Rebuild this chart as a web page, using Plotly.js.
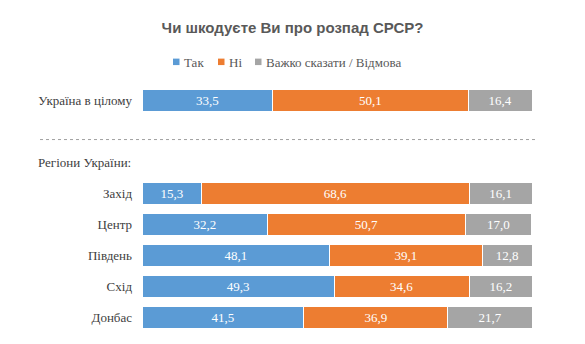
<!DOCTYPE html>
<html><head><meta charset="utf-8">
<script src="https://cdn.plot.ly/plotly-3.0.1.min.js"></script>
<style>html,body{margin:0;padding:0;background:#fff}#chart{width:585px;height:344px}</style>
</head><body><div id="chart"></div>
<script>
const categories = ["Україна в цілому", "Захід", "Центр", "Південь", "Схід", "Донбас"];
const positions = [0, 3, 4, 5, 6, 7];
const seriesNames = ["Так", "Ні", "Важко сказати / Відмова"];
const yes = [33.5, 15.3, 32.2, 48.1, 49.3, 41.5];
const no = [50.1, 68.6, 50.7, 39.1, 34.6, 36.9];
const hard = [16.4, 16.1, 17.0, 12.8, 16.2, 21.7];
const colors = ["#5B9BD5", "#ED7D31", "#A5A5A5"];
const groupLabel = "Регіони України:";
const groupPos = 2;
const titleText = "Чи шкодуєте Ви про розпад СРСР?";

const W = 585, H = 344, L = 142, R = 53, T = 84.5, B = 10.5;
const px = x => (x - L) / (W - L - R);
const py = y => (H - B - y) / (H - T - B);

const fmt = v => v.toFixed(1).replace(".", ",");
const serif = "Liberation Serif";
const traces = [yes, no, hard].map((vals, i) => ({
  type: "bar", orientation: "h",
  name: seriesNames[i], x: vals, y: positions,
  marker: {color: colors[i], line: {color: "#ffffff", width: 1}},
  width: 0.68,
  text: vals.map(fmt), textposition: "inside", insidetextanchor: "middle",
  textfont: {family: serif, size: 13, color: "#ffffff"},
  hoverinfo: "none", showlegend: false
}));

// legend drawn from seriesNames / colors
const legendX = [173, 218, 255];
const shapes = [{type: "line", xref: "paper", yref: "y", x0: px(40), x1: px(538), y0: 1.26, y1: 1.26,
    line: {color: "#A0A0A0", width: 1, dash: "dot"}}];
const annotations = [{text: groupLabel, xref: "paper", yref: "y", x: px(36), y: groupPos,
    xanchor: "left", yanchor: "middle", showarrow: false,
    font: {family: serif, size: 13, color: "#404040"}}];
seriesNames.forEach((n, i) => {
  shapes.push({type: "rect", xref: "paper", yref: "paper",
    x0: px(legendX[i]), x1: px(legendX[i] + 6.5), y0: py(64.5), y1: py(58),
    fillcolor: colors[i], line: {width: 0}});
  annotations.push({text: n, xref: "paper", yref: "paper", x: px(legendX[i] + 8.5), y: py(61.5),
    xanchor: "left", yanchor: "middle", showarrow: false,
    font: {family: serif, size: 13, color: "#595959"}});
});

const layout = {
  width: W, height: H,
  margin: {l: L, r: R, t: T, b: B},
  barmode: "stack",
  paper_bgcolor: "#ffffff", plot_bgcolor: "#ffffff",
  title: {text: "<b>" + titleText + "</b>", x: 0.5, xanchor: "center", y: 0.92, yanchor: "middle",
    font: {family: "Liberation Sans", size: 15, color: "#595959"}},
  showlegend: false,
  xaxis: {range: [0, 100], visible: false, fixedrange: true},
  yaxis: {range: [7.5, -0.5], tickvals: positions, ticktext: categories,
    showgrid: false, zeroline: false, showline: false, ticks: "", ticklabelstandoff: 9,
    tickfont: {family: serif, size: 13, color: "#404040"}, fixedrange: true},
  shapes: shapes,
  annotations: annotations
};
Plotly.newPlot("chart", traces, layout, {displayModeBar: false, staticPlot: true});
</script></body></html>
